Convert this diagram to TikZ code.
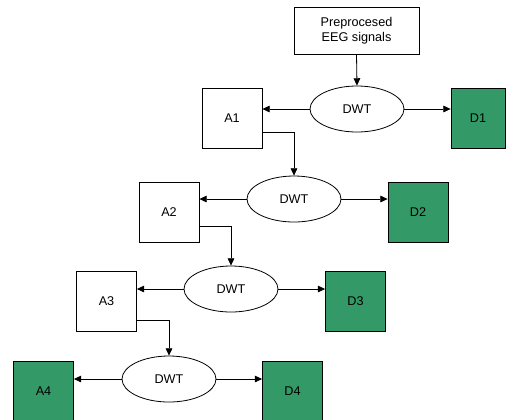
\documentclass[tikz,border=0pt]{standalone}
\usepackage{fontspec}
\setmainfont{Liberation Sans}
\usetikzlibrary{arrows.meta,shapes.geometric,calc}
\definecolor{dgreen}{RGB}{51,153,102}
\begin{document}
\begin{tikzpicture}[x=0.75pt,y=-0.75pt,
  every node/.style={font=\fontsize{9.5}{11}\selectfont, inner sep=0pt},
  abox/.style={draw, line width=0.6pt, minimum width=45pt, minimum height=45pt},
  dbox/.style={abox, fill=dgreen},
  dwt/.style={draw, ellipse, line width=0.6pt, minimum width=70.5pt, minimum height=34.5pt},
  arr/.style={-{Triangle[length=5.5pt,width=5pt]}, line width=0.6pt}]
\useasboundingbox (0,0) rectangle (506,419);
\node[draw, line width=0.6pt, minimum width=93.75pt, minimum height=35.25pt, align=center] (src) at (356.5,30.5) {Preprocesed\\EEG signals};
% level 1
\node[dwt] (W1) at (357,109) {DWT};
\node[abox] (A1) at (232,118) {A1};
\node[dbox, minimum width=40.5pt] (D1) at (478,118) {D1};
% level 2
\node[dwt] (W2) at (294,199) {DWT};
\node[abox] (A2) at (169,212) {A2};
\node[dbox] (D2) at (418,212) {D2};
% level 3
\node[dwt] (W3) at (231,289) {DWT};
\node[abox] (A3) at (106.5,301.5) {A3};
\node[dbox] (D3) at (355.5,301.5) {D3};
% level 4
\node[dwt] (W4) at (169,379) {DWT};
\node[dbox] (A4) at (43.5,391) {A4};
\node[dbox] (D4) at (292.5,391) {D4};
% connectors
\draw[arr] (src.south) -- (W1.north);
\foreach \i in {1,2,3,4}{
  \draw[arr] (W\i.west) -- (W\i.west -| A\i.east);
  \draw[arr] (W\i.east) -- (W\i.east -| D\i.west);
}
\draw[arr] ([yshift=12pt]A1.south east) -| (W2.north);
\draw[arr] ([yshift=12pt]A2.south east) -| (W3.north);
\draw[arr] ([yshift=9pt]A3.south east) -| (W4.north);
\end{tikzpicture}
\end{document}
